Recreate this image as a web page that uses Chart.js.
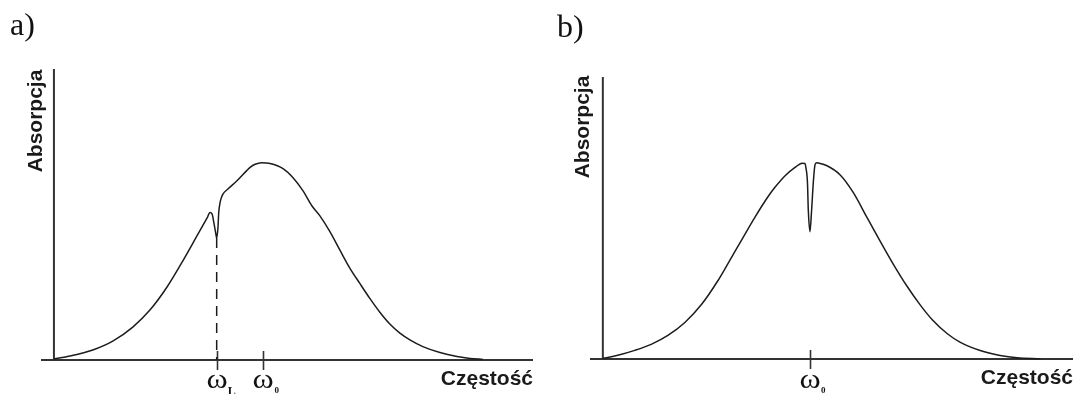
<!DOCTYPE html>
<html lang="pl">
<head>
<meta charset="utf-8">
<title>Absorpcja</title>
<script src="https://cdn.jsdelivr.net/npm/chart.js@4/dist/chart.umd.min.js"></script>
<style>
  html, body { margin: 0; padding: 0; background: #fff; }
  body { width: 1082px; height: 394px; overflow: hidden; position: relative; }
  .panel { position: absolute; top: 0; width: 541px; height: 394px; }
  .panel canvas { position: absolute; left: 0; top: 0; }
  .litera { position: absolute; font: 32px/32px 'Liberation Serif', 'Times New Roman', serif; color: #111; }
  .os-x, .os-y { position: absolute; font: bold 21px/21px 'Liberation Sans', Arial, sans-serif; color: #1a1a1a; white-space: nowrap; }
  .os-y { transform: translate(-50%, -50%) rotate(-90deg); }
  .znak { position: absolute; top: 0; width: 0; height: 0; }
  .znak .w { position: absolute; left: 0; top: 365px; font: 28px/28px 'Liberation Serif', 'Times New Roman', serif; color: #111;
             transform: translateX(-50%) scaleX(1.15); }
  .znak .s { position: absolute; font-family: 'Liberation Serif', 'Times New Roman', serif; font-weight: bold; color: #111; }
</style>
</head>
<body>

<div class="panel" style="left:0">
  <canvas id="wykresA" width="541" height="394"></canvas>
  <div class="litera" style="left:10px; top:8px">a)</div>
  <div class="os-y" style="left:34px; top:121px">Absorpcja</div>
  <div class="os-x" style="right:8px; top:367px">Częstość</div>
  <div class="znak" id="znakA0"><span class="w">ω</span><span class="s" style="left:11px; top:385px; font-size:12px; line-height:12px">L</span></div>
  <div class="znak" id="znakA1"><span class="w">ω</span><span class="s" style="left:12px; top:386px; font-size:9px; line-height:9px">0</span></div>
</div>

<div class="panel" style="left:541px">
  <canvas id="wykresB" width="541" height="394"></canvas>
  <div class="litera" style="left:16px; top:10px">b)</div>
  <div class="os-y" style="left:40px; top:127px">Absorpcja</div>
  <div class="os-x" style="right:9px; top:366px">Częstość</div>
  <div class="znak" id="znakB0"><span class="w">ω</span><span class="s" style="left:11px; top:386px; font-size:9px; line-height:9px">0</span></div>
</div>

<script>
// a) profil z wypaloną dziurą przy omega_L
const omegaL = 39.0;
const omega0 = 50;

const czestoscA = [0, 3.8, 9.3, 14.1, 18.9, 23.0, 27.1, 30.9, 34.3, 36.7,
  37.4, 37.9, 38.3, 38.8, 39.0, 39.3, 39.5, 39.8, 40.1, 40.5,
  41.7, 43.8, 46.2, 47.0, 48.2, 49.8, 51.8, 54.9, 57.3, 59.7,
  61.8, 63.7, 66.1, 68.5, 70.9, 73.3, 75.7, 78.1, 80.5, 82.9,
  85.3, 88.4, 92.5, 96.6, 99.7, 102.8];
const absorpcjaA = [0.5, 2.0, 5.1, 9.6, 16.7, 25.3, 37.0, 50.3, 63.0, 72.0,
  74.8, 74.0, 69.9, 63.9, 61.8, 66.9, 75.0, 79.6, 82.1, 84.1,
  86.7, 90.7, 96.0, 97.6, 99.2, 100, 99.6, 97.0, 92.4, 85.7,
  78.2, 73.2, 65.2, 55.8, 46.6, 38.8, 31.2, 24.2, 18.2, 13.6,
  10.2, 6.8, 3.8, 1.8, 0.8, 0.3];

// b) dziura w środku linii, przy omega_0
const czestoscB = [0, 3.6, 7.7, 11.8, 15.7, 19.8, 23.9, 27.8, 30.2, 33.6,
  36.7, 39.9, 41.6, 44.0, 46.4, 48.1, 48.8, 49.0, 49.4, 49.6,
  50.0, 50.4, 50.8, 51.2, 51.6, 52.0, 54.0, 57.3, 60.4, 63.8,
  66.9, 70.1, 73.4, 76.6, 79.7, 83.1, 86.2, 91.1, 95.9, 100, 105.6];
const absorpcjaB = [0.3, 1.9, 4.4, 7.6, 12.0, 18.6, 28.0, 40.0, 48.6, 61.0,
  72.2, 82.8, 87.6, 93.4, 97.6, 99.8, 99.6, 97.8, 89.7, 75.9,
  64.9, 75.9, 89.7, 98.8, 100, 99.9, 98.6, 93.8, 85.0, 72.0,
  60.2, 48.4, 37.2, 27.6, 19.6, 13.0, 8.6, 4.3, 1.8, 0.6, 0.1];

const znacznikiA = [omegaL, omega0];
const znacznikiB = [omega0];

function punkty(xs, ys) {
  return xs.map((x, i) => ({ x: x, y: ys[i] }));
}

// osie, kreski na osi x i podpisy omega
function osie(znaczniki, etykiety) {
  return {
    id: 'osie',
    beforeDatasetsDraw(chart) {
      const ctx = chart.ctx;
      const obszar = chart.chartArea;
      const sx = chart.scales.x, sy = chart.scales.y;
      const x0 = sx.getPixelForValue(0);
      const y0 = sy.getPixelForValue(0);
      ctx.save();
      ctx.strokeStyle = '#333';
      ctx.lineWidth = 2;
      ctx.beginPath();
      ctx.moveTo(obszar.left, y0);
      ctx.lineTo(obszar.right, y0);
      ctx.moveTo(x0, obszar.top);
      ctx.lineTo(x0, y0 + 1);
      ctx.stroke();
      ctx.lineWidth = 1.6;
      ctx.beginPath();
      znaczniki.forEach(v => {
        const px = Math.round(sx.getPixelForValue(v)) + 0.5;
        ctx.moveTo(px, y0 - 9);
        ctx.lineTo(px, y0 + 10);
      });
      ctx.stroke();
      ctx.restore();
    },
    afterDraw(chart) {
      znaczniki.forEach((v, i) => {
        document.getElementById(etykiety[i]).style.left = chart.scales.x.getPixelForValue(v) + 'px';
      });
    }
  };
}

function rysuj(id, zestawy, zakres, znaczniki, etykiety, padding) {
  const ctx = document.getElementById(id).getContext('2d');
  return new Chart(ctx, {
    type: 'line',
    data: { datasets: zestawy },
    options: {
      responsive: false,
      animation: false,
      events: [],
      layout: { padding: padding },
      scales: {
        x: { type: 'linear', min: zakres[0], max: zakres[1], display: false },
        y: { min: 0, max: zakres[2], display: false }
      },
      plugins: { legend: { display: false }, tooltip: { enabled: false } }
    },
    plugins: [osie(znaczniki, etykiety)]
  });
}

const linia = {
  borderColor: '#1c1c1c',
  borderWidth: 1.5,
  pointRadius: 0,
  fill: false,
  cubicInterpolationMode: 'monotone',
  clip: false
};

const dipA = absorpcjaA[czestoscA.indexOf(omegaL)];

rysuj('wykresA', [
  Object.assign({ data: punkty(czestoscA, absorpcjaA) }, linia),
  {
    data: [{ x: omegaL, y: dipA }, { x: omegaL, y: 0 }],
    borderColor: '#1c1c1c',
    borderWidth: 1.5,
    borderDash: [10, 7],
    pointRadius: 0,
    tension: 0,
    clip: false
  }
], [-3.1, 114.8, 147.5], znacznikiA, ['znakA0', 'znakA1'], { left: 41, right: 8, top: 69, bottom: 34 });

rysuj('wykresB', [
  Object.assign({ data: punkty(czestoscB, absorpcjaB) }, linia)
], [-3.1, 113.5, 143.7], znacznikiB, ['znakB0'], { left: 49, right: 9, top: 77, bottom: 35 });
</script>
</body>
</html>
